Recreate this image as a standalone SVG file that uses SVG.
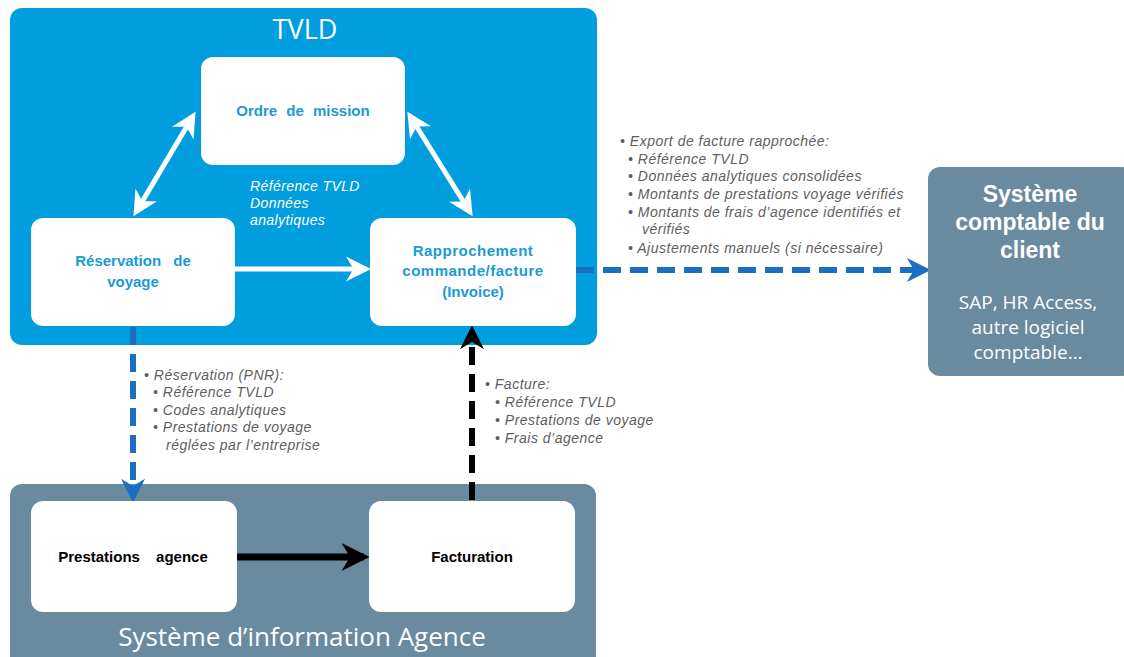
<svg xmlns="http://www.w3.org/2000/svg" width="1124" height="657" viewBox="0 0 1124 657">
<defs>
<style>
.inner{fill:#ffffff}
.lblB{font-family:"Liberation Sans",Arial,sans-serif;font-size:15px;font-weight:bold;fill:#1a9ad6;text-anchor:middle}
.lblK{font-family:"Liberation Sans",Arial,sans-serif;font-size:15px;font-weight:bold;fill:#000;text-anchor:middle}
.note{font-family:"Liberation Sans",Arial,sans-serif;font-size:14px;font-style:italic;fill:#5e5e5e;letter-spacing:0.5px}
.wnote{font-family:"Liberation Sans",Arial,sans-serif;font-size:14px;font-style:italic;fill:#ffffff;letter-spacing:0.4px}
.big{font-family:"Open Sans","Liberation Sans",sans-serif;fill:#fff;text-anchor:middle}
.ctitle{font-family:"Liberation Sans",Arial,sans-serif;font-size:23px;font-weight:bold;fill:#fff;text-anchor:middle}
</style>
<marker id="wh" viewBox="0 0 10 10" refX="8" refY="5" markerWidth="5" markerHeight="5" orient="auto-start-reverse" markerUnits="strokeWidth">
<path d="M0,0 L10,5 L0,10 L3,5 Z" fill="#fff"/>
</marker>
<marker id="blu" viewBox="0 0 10 10" refX="8" refY="5" markerWidth="4" markerHeight="4" orient="auto" markerUnits="strokeWidth">
<path d="M0,0 L10,5 L0,10 L3,5 Z" fill="#1a6fc0"/>
</marker>
<marker id="blk" viewBox="0 0 10 10" refX="8" refY="5" markerWidth="4" markerHeight="4" orient="auto" markerUnits="strokeWidth">
<path d="M0,0 L10,5 L0,10 L3,5 Z" fill="#000"/>
</marker>
</defs>
<rect width="1124" height="657" fill="#fff"/>

<g id="tvld">
<rect x="10" y="8" width="587" height="337" rx="12" fill="#009edf"/>
<text x="305" y="39" class="big" font-size="27">TVLD</text>
</g>
<g id="agence">
<rect x="10" y="484" width="586" height="185" rx="12" fill="#6a8aa0"/>
<text x="302" y="646" class="big" font-size="26">Système d’information Agence</text>
</g>

<g id="connectors">
<line x1="193" y1="116" x2="136" y2="212" stroke="#fff" stroke-width="5" marker-start="url(#wh)" marker-end="url(#wh)"/>
<line x1="410" y1="116" x2="470" y2="212" stroke="#fff" stroke-width="5" marker-start="url(#wh)" marker-end="url(#wh)"/>
<line x1="235" y1="269" x2="366" y2="269" stroke="#fff" stroke-width="5" marker-end="url(#wh)"/>
<line x1="576" y1="270" x2="926" y2="270" stroke="#1a6fc0" stroke-width="6" stroke-dasharray="18,9" marker-end="url(#blu)"/>
<line x1="133" y1="327" x2="133" y2="498" stroke="#1a6fc0" stroke-width="6" stroke-dasharray="18,9" marker-end="url(#blu)"/>
<line x1="472" y1="500" x2="472" y2="330" stroke="#000" stroke-width="6" stroke-dasharray="18,9" marker-end="url(#blk)"/>
<line x1="237" y1="557" x2="364" y2="557" stroke="#000" stroke-width="7" marker-end="url(#blk)"/>
</g>

<g id="ordre">
<rect x="201" y="57" width="204" height="108" rx="12" class="inner"/>
<text x="303" y="116" class="lblB" word-spacing="5">Ordre de mission</text>
</g>
<g id="reservation">
<rect x="31" y="218" width="204" height="108" rx="12" class="inner"/>
<text x="133" y="266" class="lblB" word-spacing="8">Réservation de</text>
<text x="133" y="287" class="lblB">voyage</text>
</g>
<g id="rapprochement">
<rect x="370" y="218" width="206" height="108" rx="12" class="inner"/>
<text x="473" y="256" class="lblB" letter-spacing="0.5">Rapprochement</text>
<text x="473" y="276" class="lblB" letter-spacing="0.5">commande/facture</text>
<text x="473" y="297" class="lblB">(Invoice)</text>
</g>
<g id="prestations">
<rect x="31" y="501" width="206" height="111" rx="12" class="inner"/>
<text x="133" y="562" class="lblK" word-spacing="12">Prestations agence</text>
</g>
<g id="facturation">
<rect x="369" y="501" width="206" height="111" rx="12" class="inner"/>
<text x="472" y="562" class="lblK">Facturation</text>
</g>
<g id="client">
<rect x="928" y="167" width="206" height="209" rx="12" fill="#6a8aa0"/>
<text x="1030" y="202" class="ctitle">Système</text>
<text x="1030" y="230" class="ctitle">comptable du</text>
<text x="1030" y="258" class="ctitle">client</text>
<text x="1028" y="309" class="big" font-size="19">SAP, HR Access,</text>
<text x="1028" y="334" class="big" font-size="19">autre logiciel</text>
<text x="1028" y="359" class="big" font-size="19">comptable…</text>
</g>

<g id="label-ordre">
<text x="250" y="191" class="wnote">Référence TVLD</text>
<text x="250" y="208" class="wnote">Données</text>
<text x="250" y="225" class="wnote">analytiques</text>
</g>
<g id="label-export" class="note">
<text x="620" y="146">• Export de facture rapprochée:</text>
<text x="628" y="164">• Référence TVLD</text>
<text x="628" y="181">• Données analytiques consolidées</text>
<text x="628" y="199">• Montants de prestations voyage vérifiés</text>
<text x="628" y="217">• Montants de frais d’agence identifiés et</text>
<text x="642" y="234">vérifiés</text>
<text x="628" y="253">• Ajustements manuels  (si nécessaire)</text>
</g>
<g id="label-pnr" class="note">
<text x="144" y="380">• Réservation (PNR):</text>
<text x="153" y="397">• Référence TVLD</text>
<text x="153" y="415">• Codes analytiques</text>
<text x="153" y="432">• Prestations de voyage</text>
<text x="166" y="450">réglées par l’entreprise</text>
</g>
<g id="label-facture" class="note">
<text x="485" y="389">• Facture:</text>
<text x="495" y="407">• Référence TVLD</text>
<text x="495" y="425">• Prestations de voyage</text>
<text x="495" y="443">• Frais d’agence</text>
</g>
</svg>
